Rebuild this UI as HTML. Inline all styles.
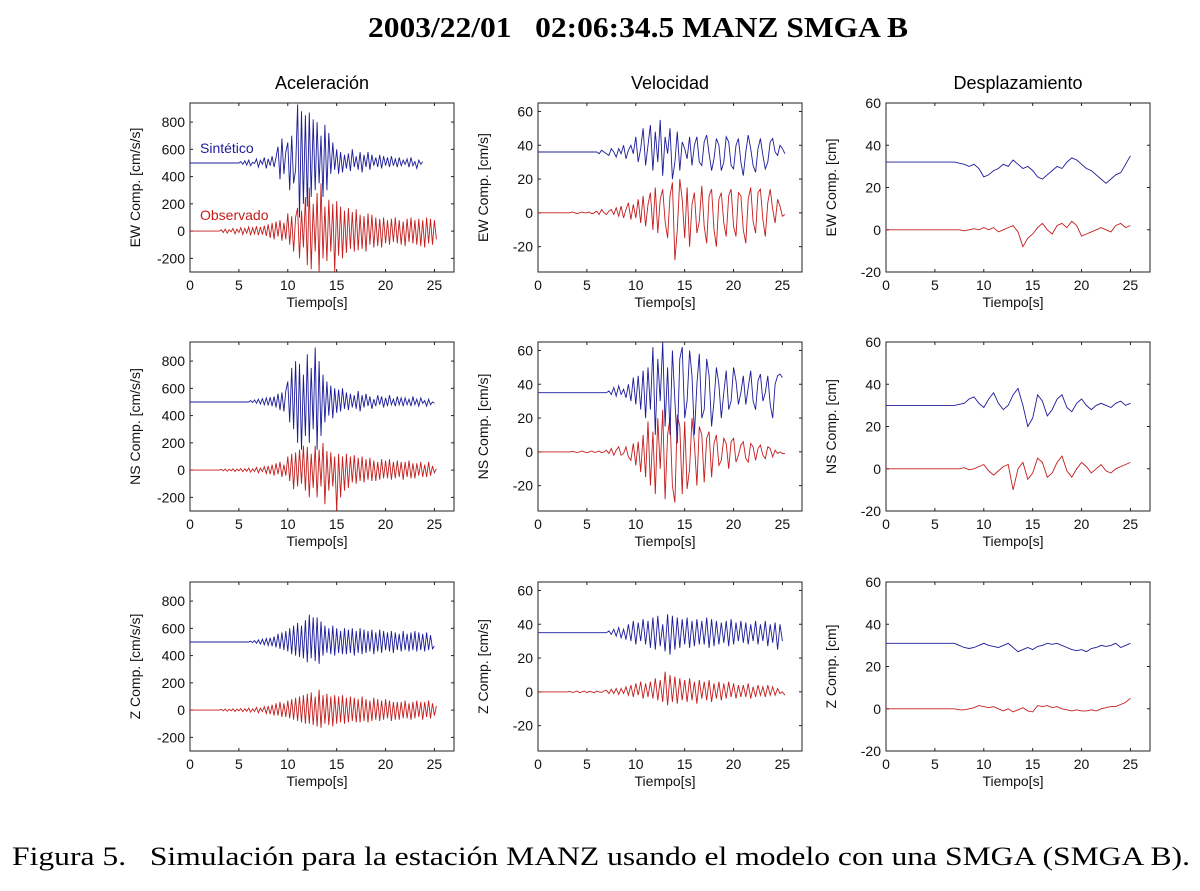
<!DOCTYPE html>
<html><head><meta charset="utf-8">
<style>
body{margin:0;background:#fff;width:1200px;height:891px;overflow:hidden}
svg{display:block}
text{font-family:"Liberation Sans",sans-serif;white-space:pre}
</style></head>
<body>
<svg id="fig" width="1200" height="891" viewBox="0 0 1200 891">
<text x="368" y="37" textLength="540" lengthAdjust="spacingAndGlyphs" xml:space="preserve" style="font-family:'Liberation Serif',serif;font-weight:bold;font-size:29px">2003/22/01   02:06:34.5 MANZ SMGA B</text>
<text x="322" y="89" text-anchor="middle" font-size="18">Aceleración</text>
<text x="670" y="89" text-anchor="middle" font-size="18">Velocidad</text>
<text x="1018" y="89" text-anchor="middle" font-size="18">Desplazamiento</text>
<text x="12" y="865" textLength="1178" lengthAdjust="spacingAndGlyphs" xml:space="preserve" style="font-family:'Liberation Serif',serif;font-size:26px">Figura 5.   Simulación para la estación MANZ usando el modelo con una SMGA (SMGA B).</text>
<g id="panels"></g>
</svg>
<script>
const xTicks=[0,5,10,15,20,25];
const accTicks=[-200,0,200,400,600,800];
const velTicks=[-20,0,20,40,60];
const disTicks=[-20,0,20,40,60];
const accRange=[-300,940], velRange=[-35,65], disRange=[-20,60];
const compNames=["EW","NS","Z"];

const accEWsyn=[500,510,490,515,485,520,480,505,495,530,470,520,490,540,460,530,480,550,470,540,620,380,680,420,580,650,300,700,350,450,930,100,880,200,850,180,870,250,820,300,800,350,700,250,780,300,720,420,650,450,600,420,580,430,560,460,570,440,600,470,550,450,580,430,560,470,580,450,560,480,540,470,560,460,550,480,540,470,550,480,530,470,540,480,520,490,530,470,540,480,510,460,520,490,510];
const accEWobs=[0,10,-10,15,-15,10,-5,20,-20,15,-10,25,-25,20,-15,30,-30,25,-20,35,-30,30,-25,40,-35,50,-50,60,-60,70,-40,80,-70,60,-60,130,-100,110,-150,100,170,-200,150,-120,250,-250,320,-280,200,-150,280,-300,350,-200,180,-220,230,-150,200,-300,220,-180,180,-200,150,-160,170,-130,140,-150,160,-140,120,-130,110,-150,130,-100,120,-120,100,-110,90,-120,100,-90,80,-100,90,-80,100,-90,80,-100,70,-110,90,-80,100,-90,80,-100,90,-110,80,-120,100,-90,90,-100,80,-60];
const accNSsyn=[500,510,495,515,490,520,485,525,480,530,475,535,470,540,460,560,440,570,430,580,650,350,750,300,800,200,780,150,700,250,850,200,750,300,900,150,800,250,700,350,650,400,620,380,600,420,590,430,600,450,570,440,560,460,550,450,580,430,550,460,560,470,540,450,520,470,550,480,540,460,530,470,550,480,520,470,540,480,530,470,530,480,520,470,540,480,520,470,530,490,510,470,520,480,500,490];
const accNSobs=[0,5,-5,8,-8,5,-5,10,-10,8,-5,12,-12,10,-8,15,-15,10,-10,20,-20,15,-10,25,-25,30,-30,40,-40,50,-30,60,-50,40,-40,100,-80,120,-140,130,-120,150,-100,180,-150,170,-200,120,-130,180,-200,150,-120,200,-250,140,-150,130,-120,100,-300,120,-200,100,-150,120,-130,100,-90,110,-100,90,-80,100,-90,80,-70,90,-80,70,-80,60,-70,80,-60,70,-60,80,-70,60,-60,70,-50,60,-70,60,-50,70,-60,50,-60,50,-40,60,-50,40,-50,60,-40,30,-20,10];
const accZsyn=[500,505,495,510,490,515,485,520,480,525,475,530,470,540,460,560,450,570,440,580,430,600,410,620,400,640,390,620,380,660,350,700,380,680,360,680,340,650,400,620,420,600,410,620,400,600,420,580,410,600,410,590,420,600,400,580,420,600,410,590,420,580,430,590,410,570,430,590,420,580,440,570,430,580,420,570,440,560,430,580,440,560,430,570,440,580,430,570,440,560,430,570,440,550,450,470];
const accZobs=[0,5,-5,8,-8,5,-5,10,-10,8,-5,12,-12,10,-8,15,-15,10,-10,20,-20,15,-10,25,-25,30,-30,40,-40,50,-40,60,-50,50,-50,70,-60,80,-70,90,-80,100,-90,110,-100,120,-100,130,-110,100,-120,150,-130,110,-100,120,-110,100,-120,110,-100,100,-90,110,-100,90,-90,100,-80,90,-90,80,-90,100,-80,80,-90,70,-80,90,-70,80,-80,70,-70,80,-60,70,-80,60,-70,60,-70,60,-60,70,-60,50,-70,60,-60,70,-50,60,-70,60,-50,70,-60,50,-40,30];

const velEWsyn=[36,35,37,36,35,34,38,36,33,38,35,40,32,37,40,35,45,30,38,50,28,40,52,25,48,30,55,22,45,35,50,20,30,48,25,42,38,32,45,28,40,45,30,28,42,46,35,25,32,44,40,25,30,45,42,28,26,40,44,30,22,36,46,38,28,24,38,44,34,26,30,42,44,36,34,40,38,35];
const velEWobs=[0,0,0.5,0,-0.5,0,0.5,0,0,0.5,-0.5,0,1,-1,2,0,-1,1,2,-1,3,-2,4,-3,2,6,-4,5,-3,8,-6,10,-8,5,12,-10,15,-12,8,14,-5,-15,10,18,-28,-10,20,8,-15,15,-20,5,12,-12,-5,16,-8,-18,10,14,-10,-20,8,12,-6,-14,10,14,-8,-14,12,10,-10,-18,8,15,-5,-12,12,14,-4,-14,6,14,2,-6,8,4,-2,-1];
const velNSsyn=[35,36,34,38,33,39,34,37,32,40,30,44,28,45,25,48,20,50,25,62,10,55,30,65,15,50,10,60,30,5,55,62,20,30,60,45,10,40,58,20,25,55,45,15,30,50,40,20,35,48,25,30,50,42,28,35,45,28,38,48,30,25,42,46,30,35,45,28,20,40,45,46,44];
const velNSobs=[0,0,0.3,0,-0.3,0,0.5,0,-0.5,0,0.5,-0.3,0,0.5,-0.5,0,1,-1,2,-2,1,3,-2,-1,3,-3,-5,5,-8,6,-12,10,-15,18,-20,12,-25,20,-10,25,-28,10,20,-20,-30,22,15,-25,18,-22,-10,20,5,-20,15,10,-18,8,12,-15,5,10,-8,-5,8,5,-10,6,8,-6,-2,4,6,-4,-6,5,3,-5,2,4,-2,-4,3,2,-3,1,-1,0,-1,-1];
const velZsyn=[35,36,34,37,33,38,32,37,31,40,30,42,28,41,30,43,28,42,26,44,25,45,27,40,24,46,22,45,25,44,26,43,28,44,26,42,27,43,28,42,28,44,26,43,27,42,28,41,29,42,27,43,28,41,30,42,29,41,28,40,30,42,28,40,30,42,27,40,29,41,25,40,30];
const velZobs=[0,0.3,-0.3,0,0.5,-0.5,0,0.5,-0.5,0.3,0,-0.5,0.5,0,-0.3,0.5,1,-1,1.5,-1,2,-1.5,2,-1,3,-2,4,-3,5,-2,6,-4,5,-3,6,-4,8,-5,7,-6,12,-8,10,-6,9,-7,8,-5,7,-6,8,-5,6,-7,7,-4,6,-5,7,-6,5,-4,6,-5,5,-4,6,-3,5,-4,4,-3,4,-3,5,-4,3,-3,4,-2,3,-3,4,-2,3,-2,2,-1,0,-2];

const disEWsyn=[32,31.5,31,30,31,29,25,26,28,29,31,30,33,31,29,30,28,25,24,26,28,30,29,32,34,33,31,29,28,26,24,22,24,26,27,31,35];
const disEWobs=[0,0,-0.5,0,0.5,0,1,0,1,-1,0,1,2,-1,-8,-4,-2,1,3,0,-2,2,3,1,4,2,-3,-2,-1,0,1,0,-1,2,3,1,2];
const disNSsyn=[30,30.5,31,33,34,31,29,33,36,31,28,30,35,38,30,20,24,35,32,25,28,33,35,29,27,31,33,30,28,30,31,30,29,31,32,30,31];
const disNSobs=[0,0,0.5,-0.5,0,1,2,-1,-3,-1,1,2,-10,0,3,-5,-2,5,3,-4,-2,3,6,-1,-4,0,3,1,-2,0,2,-1,-2,0,1,2,3];
const disZsyn=[31,30,29,28.5,29,30,31,30,29.5,29,30,31,29,27,28,29,28,29.5,30,31,30.5,31,30,29,28,27.5,28,27,28.5,29,30,29.5,30,31,29,30,31];
const disZobs=[0,-0.5,-0.5,0,0.5,1.5,1,0.5,1,0,-1,0,-1.5,-0.5,0.5,-1,-1.5,1.5,1,1.5,0.5,1,0,-0.5,-1,-0.5,-1,-1,-0.5,-1,0,0.5,1,1,2,3,5];

const NS="http://www.w3.org/2000/svg";
const root=document.getElementById('panels');
const colX=[190,538,886], rowY=[103,342,582], W=264, H=169, XMAX=27;
function mk(tag,attrs,parent){const e=document.createElementNS(NS,tag);for(const k in attrs)e.setAttribute(k,attrs[k]);parent.appendChild(e);return e;}

const cols=[
 {range:accRange,ticks:accTicks,unit:"[cm/s/s]",key:"acc",dt:0.2,
  syn:[accEWsyn,accNSsyn,accZsyn],obs:[accEWobs,accNSobs,accZobs],ts:[5,6,6],to:[3,3,3]},
 {range:velRange,ticks:velTicks,unit:"[cm/s]",key:"vel",dt:0.25,
  syn:[velEWsyn,velNSsyn,velZsyn],obs:[velEWobs,velNSobs,velZobs],ts:[6,7,7],to:[3,3,3]},
 {range:disRange,ticks:disTicks,unit:"[cm]",key:"dis",dt:0.5,
  syn:[disEWsyn,disNSsyn,disZsyn],obs:[disEWobs,disNSobs,disZobs],ts:[7,7,7],to:[7,7,7]}
];

cols.forEach((c,ci)=>{
 for(let ri=0;ri<3;ri++){
  const x0=colX[ci], y0=rowY[ri];
  const g=mk('g',{},root);
  
  
  const sx=t=>x0+t/XMAX*W;
  const sy=v=>y0+H-(v-c.range[0])/(c.range[1]-c.range[0])*H;
  const clip='clip'+ci+ri;
  const cp=mk('clipPath',{id:clip},g);
  mk('rect',{x:x0,y:y0,width:W,height:H},cp);
  const frame=mk('rect',{x:x0,y:y0,width:W,height:H,fill:'none',stroke:'#222','stroke-width':1},g);
  
  
  xTicks.forEach(t=>{
   const X=sx(t);
   mk('line',{x1:X,y1:y0+H,x2:X,y2:y0+H-3,stroke:'#222'},g);
   mk('line',{x1:X,y1:y0,x2:X,y2:y0+3,stroke:'#222'},g);
   const tx=mk('text',{x:X,y:y0+H+18,'text-anchor':'middle','font-size':14,fill:'#111'},g);
   tx.textContent=t;
   
   
  });
  c.ticks.forEach(v=>{
   const Y=sy(v);
   mk('line',{x1:x0,y1:Y,x2:x0+3,y2:Y,stroke:'#222'},g);
   mk('line',{x1:x0+W,y1:Y,x2:x0+W-3,y2:Y,stroke:'#222'},g);
   const ty=mk('text',{x:x0-5,y:Y+5,'text-anchor':'end','font-size':14,fill:'#111'},g);
   ty.textContent=v;
   
   
  });
  const xl=mk('text',{x:x0+W/2-5,y:y0+H+35,'text-anchor':'middle','font-size':14,fill:'#111'},g);
  xl.textContent='Tiempo[s]';
  
  
  const yc=y0+H/2, yx=x0-50;
  const yl=mk('text',{x:yx,y:yc,'text-anchor':'middle','font-size':14,fill:'#111',transform:`rotate(-90 ${yx} ${yc})`},g);
  yl.textContent=compNames[ri]+' Comp. '+c.unit;
  
  
  const draw=(arr,t0,color,name)=>{
   let d=`M${sx(0).toFixed(1)},${sy(arr[0]).toFixed(1)}`;
   arr.forEach((v,i)=>{d+=`L${sx(t0+i*c.dt).toFixed(1)},${sy(v).toFixed(1)}`;});
   const p=mk('path',{d:d,fill:'none',stroke:color,'stroke-width':0.9,'clip-path':`url(#${clip})`},g);
   
   
  };
  draw(c.obs[ri],c.to[ri],'#c41e1e','observed-trace');
  draw(c.syn[ri],c.ts[ri],'#1c1c9a','synthetic-trace');
 }
});
const l1=mk('text',{x:200,y:153,'font-size':14,fill:'#1c1c9a'},root);
l1.textContent='Sintético';


const l2=mk('text',{x:200,y:220,'font-size':14,fill:'#c41e1e'},root);
l2.textContent='Observado';


</script>
</body></html>
